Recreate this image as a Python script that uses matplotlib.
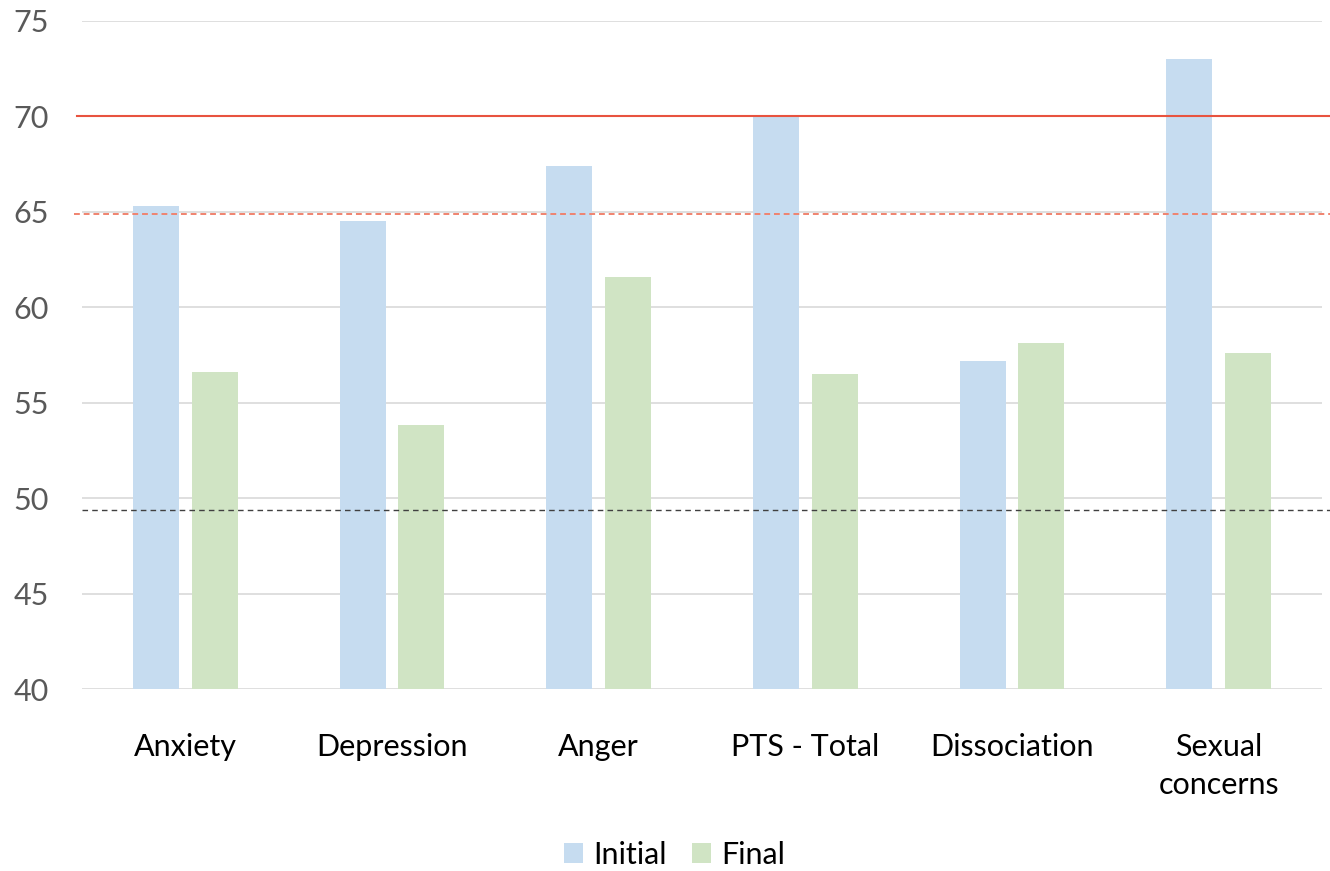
import matplotlib
matplotlib.use("Agg")
import matplotlib.pyplot as plt
import numpy as np
from matplotlib.patches import Patch

categories = ["Anxiety", "Depression", "Anger", "PTS - Total", "Dissociation", "Sexual\nconcerns"]
initial = [65.3, 64.5, 67.4, 70.0, 57.2, 73.0]
final = [56.6, 53.8, 61.6, 56.5, 58.1, 57.6]
series_names = ["Initial", "Final"]
yticks = [40, 45, 50, 55, 60, 65, 70, 75]
clinical_line = 70.0
borderline_line = 64.9
norm_line = 49.4

plt.rcParams['font.family'] = ['Lato', 'DejaVu Sans']

W, H = 1330, 871
fig = plt.figure(figsize=(W / 100, H / 100), dpi=100)
ax = fig.add_axes([82 / W, (H - 689) / H, 1240 / W, (689 - 20.7) / H])

blue = "#C6DCF0"
green = "#D0E4C4"
x = np.arange(len(categories))
bw = 0.2226
off = 0.1427
ax.bar(x - off, [v - 40 for v in initial], bottom=40, width=bw, color=blue, zorder=2)
ax.bar(x + off, [v - 40 for v in final], bottom=40, width=bw, color=green, zorder=2)

ax.set_xlim(-0.5, len(categories) - 0.5)
ax.set_ylim(40, 75)
ax.set_yticks(yticks)
ax.set_yticklabels([str(t) for t in yticks], fontsize=22, color="#595959")
ax.set_xticks(x)
ax.set_xticklabels(categories, fontsize=22, color="black", linespacing=1.46)
ax.tick_params(axis='y', length=0, pad=24)
ax.tick_params(axis='x', length=0, pad=31.5)
ax.yaxis.grid(True, color="#D9D9D9", linewidth=1.2, zorder=0)
ax.set_axisbelow(True)
for s in ax.spines.values():
    s.set_visible(False)

ax.axhline(clinical_line, xmin=-5 / 1240, xmax=1248 / 1240, color="#E8533F",
           linewidth=1.5, clip_on=False, zorder=3)
ax.axhline(borderline_line, xmin=-8 / 1240, xmax=1248 / 1240, color="#F0836F",
           linewidth=1.4, linestyle=(0, (3, 2)), clip_on=False, zorder=3)
ax.axhline(norm_line, xmin=0, xmax=1248 / 1240, color="#404040",
           linewidth=1.0, linestyle=(0, (4, 3)), clip_on=False, zorder=3)

handles = [Patch(facecolor=blue, label=series_names[0]),
           Patch(facecolor=green, label=series_names[1])]
fig.legend(handles=handles, loc="center", bbox_to_anchor=(674.5 / W, (H - 855) / H),
           ncol=2, frameon=False, fontsize=22, handlelength=0.62, handleheight=0.62,
           handletextpad=0.33, columnspacing=0.85, borderpad=0)

fig.savefig("out.png", dpi=100)
